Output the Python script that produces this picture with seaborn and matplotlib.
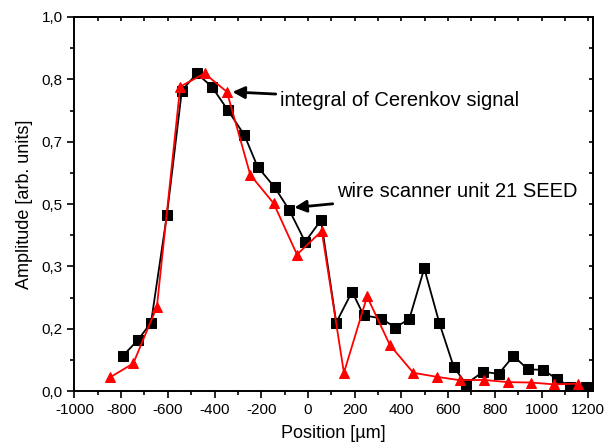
import numpy as np
import pandas as pd
import matplotlib
matplotlib.use("Agg")
import matplotlib.pyplot as plt
import seaborn as sns
from matplotlib.ticker import MultipleLocator, FixedLocator, FuncFormatter

# data
wire_x = [-793, -729, -672, -604, -540, -476, -412, -343, -272, -216, -143, -80, -12,
          56, 121, 189, 238, 314, 374, 434, 498, 563, 624, 677, 750, 816, 880, 942,
          1006, 1067, 1124, 1191]
wire_y = [0.094, 0.136, 0.183, 0.471, 0.803, 0.849, 0.814, 0.751, 0.684, 0.600, 0.545,
          0.484, 0.399, 0.457, 0.183, 0.266, 0.203, 0.194, 0.170, 0.193, 0.328, 0.181,
          0.065, 0.019, 0.052, 0.046, 0.094, 0.058, 0.057, 0.032, 0.012, 0.012]

cer_x = [-847, -748, -647, -547, -443, -347, -247, -147, -47, 59, 154, 253, 351, 451,
         554, 653, 753, 855, 954, 1053, 1155]
cer_y = [0.037, 0.074, 0.225, 0.814, 0.849, 0.800, 0.578, 0.502, 0.365, 0.428, 0.049,
         0.253, 0.123, 0.049, 0.038, 0.029, 0.030, 0.024, 0.023, 0.018, 0.020]

y_major = [k / 6 for k in range(7)]

sns.set_style("ticks")
plt.rcParams["font.family"] = ["Liberation Sans", "DejaVu Sans"]
plt.rcParams["axes.unicode_minus"] = False
plt.rcParams["text.color"] = "black"
plt.rcParams["axes.labelcolor"] = "black"

fig = plt.figure(figsize=(6.05, 4.47), dpi=100)
ax = fig.add_axes([0.123, 0.125, 0.857, 0.837])

sns.lineplot(x=wire_x, y=wire_y, ax=ax, color="black", marker="s", markersize=6.5,
             markeredgecolor="black", linewidth=1.3)
sns.lineplot(x=cer_x, y=cer_y, ax=ax, color="red", marker="^", markersize=7.5,
             markeredgecolor="red", linewidth=1.3)

ax.set_xlim(-1000, 1220)
ax.set_ylim(0, 1.0)
ax.xaxis.set_major_locator(MultipleLocator(200))
ax.xaxis.set_minor_locator(MultipleLocator(100))
ax.yaxis.set_major_locator(FixedLocator(y_major))
ax.yaxis.set_minor_locator(MultipleLocator(1 / 12))
ax.yaxis.set_major_formatter(FuncFormatter(lambda v, p: f"{v:.1f}".replace(".", ",")))

ax.tick_params(axis="both", which="major", direction="out", length=5, width=1.2,
               labelsize=11, colors="black")
ax.tick_params(axis="both", which="minor", direction="out", length=3, width=1.2,
               colors="black")
for s in ax.spines.values():
    s.set_linewidth(1.4)
    s.set_color("black")

# inward ticks on top and right
top = ax.secondary_xaxis("top")
top.xaxis.set_major_locator(MultipleLocator(200))
top.xaxis.set_minor_locator(MultipleLocator(100))
top.tick_params(which="both", direction="in", length=3, width=1.2, labeltop=False,
                colors="black")
right = ax.secondary_yaxis("right")
right.yaxis.set_major_locator(FixedLocator(y_major))
right.yaxis.set_minor_locator(MultipleLocator(1 / 12))
right.tick_params(which="both", direction="in", length=3, width=1.2, labelright=False,
                  colors="black")
for sec in (top, right):
    for s in sec.spines.values():
        s.set_linewidth(1.4)
        s.set_color("black")

ax.set_xlabel("Position [\u00b5m]", fontsize=13, labelpad=6)
ax.set_ylabel("Amplitude [arb. units]", fontsize=13, labelpad=6)

ax.annotate("integral of Cerenkov signal", xy=(-335, 0.80), xytext=(-118, 0.778),
            fontsize=14.5, va="center", color="black",
            arrowprops=dict(arrowstyle="-|>", color="black", lw=2,
                            mutation_scale=18, shrinkA=1, shrinkB=2))
ax.annotate("wire scanner unit 21 SEED", xy=(-70, 0.49), xytext=(126, 0.533),
            fontsize=14.5, va="center", color="black",
            arrowprops=dict(arrowstyle="-|>", color="black", lw=2,
                            mutation_scale=18, shrinkA=1, shrinkB=2))

fig.savefig("out.png", dpi=100)
